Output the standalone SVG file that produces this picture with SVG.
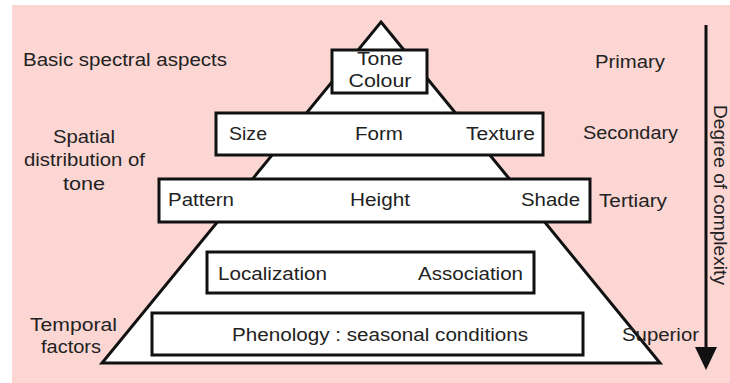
<svg xmlns="http://www.w3.org/2000/svg" width="730" height="383" viewBox="0 0 730 383">
<style>
text{font-family:"Liberation Sans",Arial,sans-serif;font-size:17.5px;fill:#222}
.box{fill:#fff;stroke:#111;stroke-width:3}
.m{text-anchor:middle}
</style>
<rect width="730" height="383" fill="#fff"/>
<rect x="12" y="5" width="718" height="378" fill="#fbd6d3"/>
<g id="pyramid">
<polygon points="381,22 660,363 102,363" fill="#fff" stroke="#111" stroke-width="3" stroke-linejoin="miter"/>
</g>
<g id="n-tone">
<rect class="box" x="332" y="50" width="95" height="43"/>
<text class="m" x="380" y="65" textLength="46" lengthAdjust="spacingAndGlyphs">Tone</text>
<text class="m" x="380" y="87" textLength="63" lengthAdjust="spacingAndGlyphs">Colour</text>
</g>
<g id="n-secondary">
<rect class="box" x="216" y="113" width="327" height="42"/>
<text x="229" y="140" textLength="38" lengthAdjust="spacingAndGlyphs">Size</text>
<text class="m" x="379" y="140" textLength="48" lengthAdjust="spacingAndGlyphs">Form</text>
<text x="466" y="140" textLength="69" lengthAdjust="spacingAndGlyphs">Texture</text>
</g>
<g id="n-tertiary">
<rect class="box" x="159" y="179" width="431" height="43"/>
<text x="168" y="206" textLength="66" lengthAdjust="spacingAndGlyphs">Pattern</text>
<text class="m" x="380" y="206" textLength="60" lengthAdjust="spacingAndGlyphs">Height</text>
<text x="521" y="206" textLength="59" lengthAdjust="spacingAndGlyphs">Shade</text>
</g>
<g id="n-local">
<rect class="box" x="207" y="252" width="327" height="41"/>
<text x="218" y="280" textLength="109" lengthAdjust="spacingAndGlyphs">Localization</text>
<text x="418" y="280" textLength="105" lengthAdjust="spacingAndGlyphs">Association</text>
</g>
<g id="n-phenology">
<rect class="box" x="152" y="313" width="431" height="42"/>
<text x="232" y="341" textLength="296" lengthAdjust="spacingAndGlyphs">Phenology : seasonal conditions</text>
</g>
<g id="labels-left">
<text x="23" y="66" textLength="204" lengthAdjust="spacingAndGlyphs">Basic spectral aspects</text>
<text class="m" x="84" y="143" textLength="62" lengthAdjust="spacingAndGlyphs">Spatial</text>
<text x="24" y="166" textLength="121" lengthAdjust="spacingAndGlyphs">distribution of</text>
<text class="m" x="84" y="190" textLength="42" lengthAdjust="spacingAndGlyphs">tone</text>
<text x="30" y="331" textLength="87" lengthAdjust="spacingAndGlyphs">Temporal</text>
<text x="41" y="353" textLength="60" lengthAdjust="spacingAndGlyphs">factors</text>
</g>
<g id="labels-right">
<text x="595" y="68" textLength="70" lengthAdjust="spacingAndGlyphs">Primary</text>
<text x="583" y="139" textLength="95" lengthAdjust="spacingAndGlyphs">Secondary</text>
<text x="599" y="207" textLength="68" lengthAdjust="spacingAndGlyphs">Tertiary</text>
<text x="622" y="341" textLength="77" lengthAdjust="spacingAndGlyphs">Superior</text>
</g>
<g id="connectors">
<line x1="706" y1="25" x2="706" y2="350" stroke="#111" stroke-width="3"/>
<polygon points="695,347 717,347 706,370" fill="#111"/>
<text transform="translate(714,105) rotate(90)" textLength="180" lengthAdjust="spacingAndGlyphs">Degree of complexity</text>
</g>
</svg>
